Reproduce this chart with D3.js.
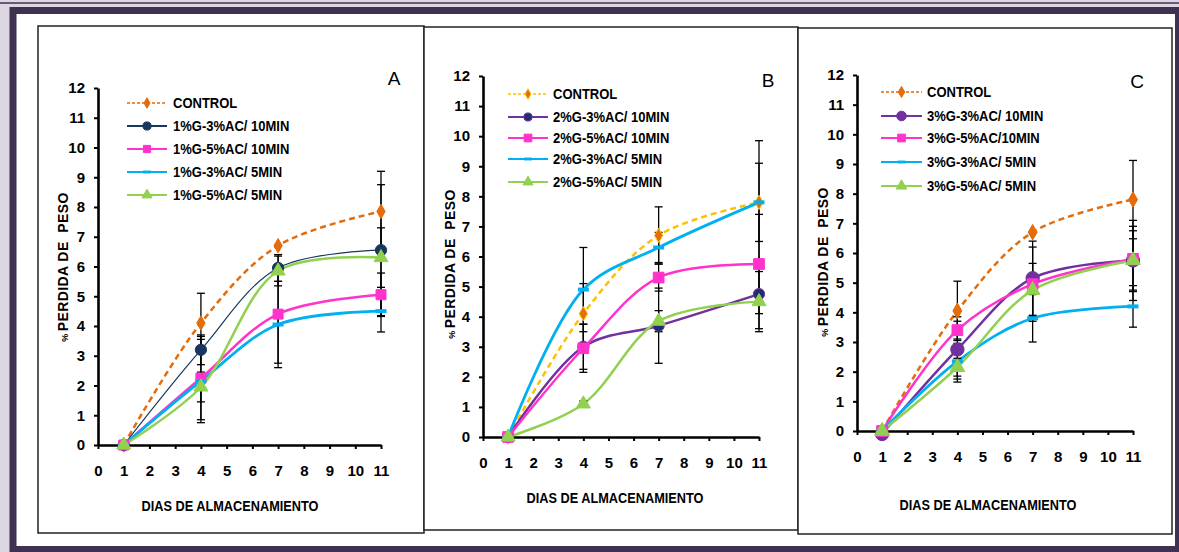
<!DOCTYPE html>
<html>
<head>
<meta charset="utf-8">
<script src="https://cdn.jsdelivr.net/npm/d3@7"></script>
<style>
  html, body { margin: 0; padding: 0; background: #fff; }
  svg { display: block; }
  text { font-family: "Liberation Sans", Arial, sans-serif; }
</style>
</head>
<body>
<script>
// ---- data ----
const days = [1, 4, 7, 11];
const xTickValues = [0, 1, 2, 3, 4, 5, 6, 7, 8, 9, 10, 11];
const yTickValues = [0, 1, 2, 3, 4, 5, 6, 7, 8, 9, 10, 11, 12];
const panelLetters = ["A", "B", "C"];
const xTitle = "DIAS DE ALMACENAMIENTO";
const yTitle = "PERDIDA DE  PESO";

const namesA = ["CONTROL", "1%G-3%AC/ 10MIN", "1%G-5%AC/ 10MIN", "1%G-3%AC/ 5MIN", "1%G-5%AC/ 5MIN"];
const valuesA = [
  [0, 4.1, 6.7, 7.85],
  [0, 3.2, 5.95, 6.55],
  [0, 2.25, 4.4, 5.05],
  [0, 2.15, 4.05, 4.5],
  [0, 1.95, 5.85, 6.3]
];
const errorsA = [
  [0, 1.0, 0, 1.35],
  [0, 0.5, 0.45, 2.2],
  [0, 1.4, 1.65, 0.73],
  [0, 1.4, 1.45, 0.7],
  [0, 0.5, 0.5, 1.0]
];

const namesB = ["CONTROL", "2%G-3%AC/ 10MIN", "2%G-5%AC/ 10MIN", "2%G-3%AC/ 5MIN", "2%G-5%AC/ 5MIN"];
const valuesB = [
  [0, 4.1, 6.7, 7.8],
  [0, 3.0, 3.7, 4.75],
  [0, 2.95, 5.3, 5.75],
  [0, 4.9, 6.3, 7.8],
  [0, 1.1, 3.85, 4.5]
];
const errorsB = [
  [0, 1.0, 0.95, 2.05],
  [0, 0.75, 1.25, 1.15],
  [0, 0.8, 0.45, 1.65],
  [0, 1.4, 0.5, 1.3],
  [0, 0.1, 0.35, 1.0]
];

const namesC = ["CONTROL", "3%G-3%AC/ 10MIN", "3%G-5%AC/10MIN", "3%G-3%AC/ 5MIN", "3%G-5%AC/ 5MIN"];
const valuesC = [
  [0, 4.05, 6.7, 7.8],
  [-0.1, 2.75, 5.15, 5.75],
  [0, 3.4, 4.95, 5.8],
  [0, 2.35, 3.8, 4.2],
  [0, 2.15, 4.75, 5.75]
];
const errorsC = [
  [0, 1.0, 0, 1.32],
  [0, 1.1, 1.25, 1.35],
  [0, 0.3, 1.25, 1.1],
  [0, 0.6, 0.8, 0.7],
  [0, 0.3, 0.9, 1.0]
];

// ---- styles per panel ----
const stylesA = [
  {stroke: "#E46C0A", width: 2.5, dash: "6,4", symbol: "diamond", fill: "#E46C0A", mstroke: "#E46C0A", size: 60},
  {stroke: "#17375E", width: 1.2, dash: null, symbol: "circle", fill: "#17375E", mstroke: "#17375E", size: 100},
  {stroke: "#FF33CC", width: 2.5, dash: null, symbol: "square", fill: "#FF33CC", mstroke: "#FF33CC", size: 100},
  {stroke: "#00B0F0", width: 2.8, dash: null, symbol: "dash", fill: "#00B0F0", mstroke: "#00B0F0", size: 0},
  {stroke: "#92D050", width: 2.5, dash: null, symbol: "triangle", fill: "#92D050", mstroke: "#92D050", size: 85}
];
const stylesB = [
  {stroke: "#FFC000", width: 2.5, dash: "6,4", symbol: "diamond", fill: "#E46C0A", mstroke: "#FFC000", size: 60},
  {stroke: "#7030A0", width: 2.5, dash: null, symbol: "circle", fill: "#1F2F6E", mstroke: "#7030A0", size: 100},
  {stroke: "#FF33CC", width: 2.5, dash: null, symbol: "square", fill: "#FF33CC", mstroke: "#FF33CC", size: 115},
  {stroke: "#00B0F0", width: 2.8, dash: null, symbol: "dash", fill: "#00B0F0", mstroke: "#00B0F0", size: 0},
  {stroke: "#92D050", width: 2.5, dash: null, symbol: "triangle", fill: "#92D050", mstroke: "#92D050", size: 85}
];
const stylesC = [
  {stroke: "#E46C0A", width: 2.5, dash: "6,4", symbol: "diamond", fill: "#E46C0A", mstroke: "#E46C0A", size: 70},
  {stroke: "#7030A0", width: 2.5, dash: null, symbol: "circle", fill: "#7030A0", mstroke: "#7030A0", size: 140},
  {stroke: "#FF33CC", width: 2.5, dash: null, symbol: "square", fill: "#FF33CC", mstroke: "#FF33CC", size: 115},
  {stroke: "#00B0F0", width: 2.8, dash: null, symbol: "dash", fill: "#00B0F0", mstroke: "#00B0F0", size: 0},
  {stroke: "#92D050", width: 2.5, dash: null, symbol: "triangle", fill: "#92D050", mstroke: "#92D050", size: 95}
];

// ---- layout ----
const panels = [
  {names: namesA, values: valuesA, errors: errorsA, styles: stylesA,
   frame: [38, 26, 424, 533], x0: 98, x1: 381, y0: 445, y1: 88,
   legX: [127, 167, 173], legY: [103, 126, 149, 172, 195],
   letter: [394, 85], yLab: [63, 267], xLab: [230, 511]},
  {names: namesB, values: valuesB, errors: errorsB, styles: stylesB,
   frame: [424, 27, 798, 530], x0: 483, x1: 759, y0: 437, y1: 76,
   legX: [508, 548, 553], legY: [94, 117, 138, 159, 182],
   letter: [768, 87], yLab: [450, 264], xLab: [615, 503]},
  {names: namesC, values: valuesC, errors: errorsC, styles: stylesC,
   frame: [798, 28, 1172, 534], x0: 857, x1: 1133, y0: 431, y1: 75,
   legX: [881, 922, 927], legY: [92, 116, 138, 162, 186],
   letter: [1137, 88], yLab: [823, 262], xLab: [988, 510]}
];

const W = 1179, H = 552;
const svg = d3.select("body").append("svg").attr("width", W).attr("height", H);

// outer decorative frame
svg.append("rect").attr("x", 0).attr("y", 0).attr("width", W).attr("height", H).attr("fill", "#DDD7E4");
svg.append("line").attr("x1", 0).attr("x2", W).attr("y1", 3).attr("y2", 3)
  .attr("stroke", "#3F3151").attr("stroke-width", 1.5);
svg.append("rect").attr("x", 13).attr("y", 10.5).attr("width", 1165.5).attr("height", 539)
  .attr("fill", "#fff").attr("stroke", "#3F3151").attr("stroke-width", 7);

function symbolPath(type, size) {
  const map = {diamond: d3.symbolDiamond, circle: d3.symbolCircle, square: d3.symbolSquare, triangle: d3.symbolTriangle};
  return d3.symbol().type(map[type]).size(size)();
}

function drawMarker(g, st, x, y, scale) {
  if (st.symbol === "dash") {
    const w = 11 * scale, h = 4 * scale;
    g.append("rect").attr("x", x - w / 2).attr("y", y - h / 2).attr("width", w).attr("height", h)
      .attr("fill", st.fill);
  } else {
    g.append("path").attr("d", symbolPath(st.symbol, st.size * scale * scale))
      .attr("transform", `translate(${x},${y})`)
      .attr("fill", st.fill).attr("stroke", st.mstroke).attr("stroke-width", 1);
  }
}

// bold, slightly condensed text like the original
function narrowText(g, x, y, str, size, sx, anchor) {
  return g.append("text").attr("transform", `translate(${x},${y}) scale(${sx},1)`)
    .attr("text-anchor", anchor || "start").attr("font-weight", "bold").attr("font-size", size)
    .attr("fill", "#000").style("white-space", "pre").text(str);
}

panels.forEach((p, pi) => {
  const g = svg.append("g");
  const [fx0, fy0, fx1, fy1] = p.frame;
  g.append("rect").attr("x", fx0).attr("y", fy0).attr("width", fx1 - fx0).attr("height", fy1 - fy0)
    .attr("fill", "#fff").attr("stroke", "#222").attr("stroke-width", 1.5);

  const x = d3.scaleLinear().domain([0, 11]).range([p.x0, p.x1]);
  const y = d3.scaleLinear().domain([0, 12]).range([p.y0, p.y1]);

  // axes
  const ax = g.append("g").attr("transform", `translate(0,${p.y0})`)
    .call(d3.axisBottom(x).tickValues(xTickValues).tickSize(4).tickSizeOuter(0).tickPadding(16).tickFormat(d3.format("d")));
  const ay = g.append("g").attr("transform", `translate(${p.x0},0)`)
    .call(d3.axisLeft(y).tickValues(yTickValues).tickSize(4).tickSizeOuter(0).tickPadding(9).tickFormat(d3.format("d")));
  [ax, ay].forEach(a => {
    a.select(".domain").attr("stroke", "#000").attr("stroke-width", 2.6);
    a.selectAll(".tick line").attr("stroke", "#000").attr("stroke-width", 2);
    a.selectAll(".tick text").attr("fill", "#000").attr("font-size", 15).attr("font-weight", "bold")
      .attr("font-family", "'Liberation Sans', Arial, sans-serif");
  });

  // lines
  const line = d3.line().x((d, i) => x(days[i])).y(d => y(d)).curve(d3.curveCatmullRom.alpha(0.5));
  p.values.forEach((vals, si) => {
    const st = p.styles[si];
    g.append("path").datum(vals).attr("d", line).attr("fill", "none")
      .attr("stroke", st.stroke).attr("stroke-width", st.width)
      .attr("stroke-dasharray", st.dash);
  });

  // error bars
  const eg = g.append("g").attr("stroke", "#000").attr("stroke-width", 1.3);
  p.values.forEach((vals, si) => {
    vals.forEach((v, i) => {
      const e = p.errors[si][i];
      if (!e) return;
      const cx = x(days[i]);
      eg.append("line").attr("x1", cx).attr("x2", cx).attr("y1", y(v - e)).attr("y2", y(v + e));
      [v - e, v + e].forEach(t => {
        eg.append("line").attr("x1", cx - 4).attr("x2", cx + 4).attr("y1", y(t)).attr("y2", y(t));
      });
    });
  });

  // markers
  p.values.forEach((vals, si) => {
    const st = p.styles[si];
    const mg = g.append("g");
    vals.forEach((v, i) => drawMarker(mg, st, x(days[i]), y(v), 1));
  });

  // legend
  const lg = g.append("g");
  p.names.forEach((name, si) => {
    const st = p.styles[si];
    const ly = p.legY[si];
    lg.append("line").attr("x1", p.legX[0]).attr("x2", p.legX[1]).attr("y1", ly).attr("y2", ly)
      .attr("stroke", st.stroke).attr("stroke-width", st.dash ? 1.3 : 1.8)
      .attr("stroke-dasharray", st.dash ? "3,2" : null);
    drawMarker(lg, st, (p.legX[0] + p.legX[1]) / 2, ly, 0.72);
    narrowText(lg, p.legX[2], ly + 5, name, 14, 0.93);
  });

  // panel letter
  g.append("text").attr("x", p.letter[0]).attr("y", p.letter[1]).attr("text-anchor", "middle")
    .attr("font-family", "'Liberation Serif', 'Times New Roman', serif").attr("font-size", 19)
    .text(panelLetters[pi]);

  // axis titles
  const yt = g.append("text").attr("transform", `translate(${p.yLab[0] + 5},${p.yLab[1]}) rotate(-90)`)
    .attr("text-anchor", "middle").attr("font-weight", "bold").attr("font-size", 14)
    .style("white-space", "pre");
  yt.append("tspan").attr("font-size", 9).text("% ");
  yt.append("tspan").attr("letter-spacing", 0.4).text(yTitle);

  narrowText(g, p.xLab[0], p.xLab[1], xTitle, 14, 0.91, "middle");
});
</script>
</body>
</html>
